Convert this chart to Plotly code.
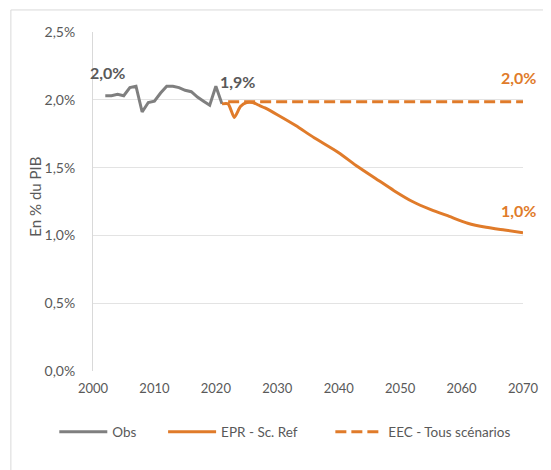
import plotly.graph_objects as go

# Observed series
obs_years = list(range(2002, 2022))
obs_values = [2.03, 2.03, 2.04, 2.03, 2.09, 2.10, 1.91, 1.98, 1.99, 2.05,
              2.10, 2.10, 2.09, 2.07, 2.06, 2.02, 1.99, 1.96, 2.10, 1.97]

# EPR - Sc. Ref projection
epr_years = [2021, 2022, 2023, 2024, 2025, 2026, 2027, 2028, 2030, 2033, 2036, 2040,
             2043, 2046, 2049, 2052, 2055, 2058, 2061, 2064, 2067, 2070]
epr_values = [1.97, 1.97, 1.87, 1.95, 1.98, 1.98, 1.96, 1.94, 1.89, 1.81, 1.72, 1.61,
              1.51, 1.42, 1.33, 1.25, 1.19, 1.14, 1.09, 1.06, 1.04, 1.02]

# EEC - Tous scénarios
eec_years = [2022, 2070]
eec_values = [1.985, 1.985]

# Data labels
label_x = [2002.4, 2023.5, 2069.2, 2069.2]
label_y = [2.20, 2.135, 2.165, 1.185]
label_text = ["2,0%", "1,9%", "2,0%", "1,0%"]
label_colors = ["#595959", "#595959", "#E07B2A", "#E07B2A"]

y_ticks = [0, 0.5, 1.0, 1.5, 2.0, 2.5]
y_ticktext = ["0,0%", "0,5%", "1,0%", "1,5%", "2,0%", "2,5%"]
x_ticks = [2000, 2010, 2020, 2030, 2040, 2050, 2060, 2070]
y_title = "En % du PIB"

GRAY = "#7F7F7F"
ORANGE = "#E07B2A"
TXT = "#595959"
FONT = "Lato"

fig = go.Figure()
fig.add_trace(go.Scatter(x=obs_years, y=obs_values, mode="lines", name="Obs",
                         line=dict(color=GRAY, width=3), legend="legend"))
fig.add_trace(go.Scatter(x=epr_years, y=epr_values, mode="lines", name="EPR - Sc. Ref",
                         line=dict(color=ORANGE, width=3, shape="spline", smoothing=0.6),
                         legend="legend2"))
fig.add_trace(go.Scatter(x=eec_years, y=eec_values, mode="lines", name="EEC - Tous scénarios",
                         line=dict(color=ORANGE, width=3, dash="11px,5px"), legend="legend3"))

for x, y, t, c in zip(label_x, label_y, label_text, label_colors):
    fig.add_annotation(x=x, y=y, text="<b>" + t + "</b>", showarrow=False,
                       font=dict(family=FONT, size=16, color=c))

# y axis title
fig.add_annotation(xref="paper", yref="paper", x=-0.1336, y=0.513, text=y_title,
                   textangle=-90, showarrow=False, xanchor="center", yanchor="middle",
                   font=dict(family=FONT, size=15, color=TXT))

# outer frame
fig.add_shape(type="rect", xref="paper", yref="paper", x0=-0.191, x1=1.2, y0=-0.5, y1=1.065,
              line=dict(color="#D9D9D9", width=1), fillcolor="rgba(0,0,0,0)", layer="below")

legend_common = dict(orientation="h", yanchor="middle", xanchor="left", y=-0.18,
                     font=dict(family=FONT, size=13.5, color=TXT), itemwidth=48,
                     bgcolor="rgba(0,0,0,0)", borderwidth=0)

fig.update_layout(
    width=543, height=462,
    margin=dict(l=85, r=24, t=24, b=99),
    paper_bgcolor="white", plot_bgcolor="white",
    font=dict(family=FONT, size=12, color=TXT),
    showlegend=True,
    legend=dict(legend_common, x=-0.09),
    legend2=dict(legend_common, x=0.163),
    legend3=dict(legend_common, x=0.552),
    xaxis=dict(range=[2000, 2070], tickvals=x_ticks, showgrid=False, zeroline=False,
               showline=False, ticks="", ticklabelstandoff=8,
               tickfont=dict(family=FONT, size=13, color=TXT)),
    yaxis=dict(range=[0, 2.5], tickvals=y_ticks, ticktext=y_ticktext, showgrid=True,
               gridcolor="#E3E3E3", gridwidth=1, zeroline=False, showline=True,
               linecolor="#D9D9D9", linewidth=1, ticks="", ticklabelstandoff=14,
               tickfont=dict(family=FONT, size=14, color=TXT)),
)

fig.write_html("out.html")
